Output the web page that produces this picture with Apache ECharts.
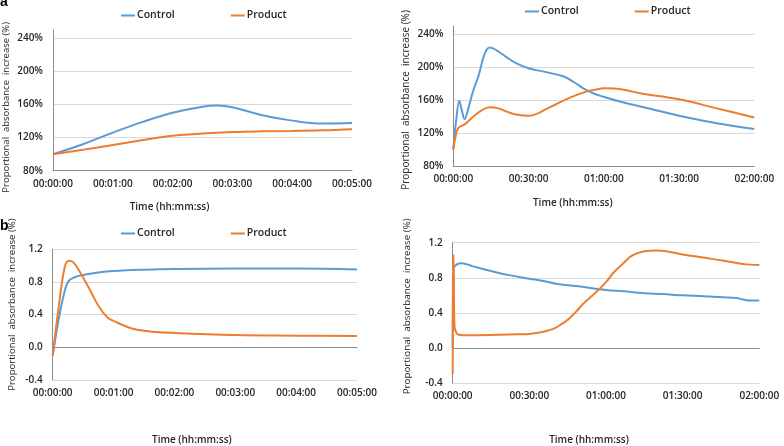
<!DOCTYPE html>
<html>
<head>
<meta charset="utf-8">
<script src="https://cdn.jsdelivr.net/npm/echarts@6/dist/echarts.min.js"></script>
<style>
html,body{margin:0;padding:0;background:#fff;}
#chart{width:784px;height:446px;}
</style>
</head>
<body>
<div id="chart"></div>
<script>
// ---------- DATA ----------
const seriesNames = ['Control', 'Product'];

// Panel a (left): 0-5 min, time in minutes, values in %
const a1ControlTime = [0, 0.5, 1, 1.5, 2, 2.5, 2.75, 3, 3.5, 4, 4.5, 5];
const a1ControlVal  = [100, 112, 126, 139, 150, 157.4, 158.8, 156.6, 147, 140.5, 137, 137.6];
const a1ProductTime = [0, 0.5, 1, 1.5, 2, 2.5, 3, 3.5, 4, 4.5, 5];
const a1ProductVal  = [100, 105.4, 111, 117, 122.3, 125, 126.8, 127.6, 128, 128.8, 130.2];

// Panel a (right): 0-120 min
const a2ControlTime = [0, 1.2, 2.4, 3.3, 4.5, 6, 8, 10, 12.6, 14.6, 18, 21.3, 25, 30, 37, 44, 48, 52, 56, 60, 68, 75, 90, 105, 120];
const a2ControlVal  = [100, 137, 159, 149, 137, 150, 172, 189, 217, 224, 219, 212, 205, 198.7, 194, 188.6, 182, 174, 168, 164, 157, 152, 141, 132, 125];
const a2ProductTime = [0, 1, 2, 4.7, 8, 11, 14.6, 18, 21.3, 25, 30, 33, 37, 41, 45, 49, 53, 57, 60, 64, 68, 75, 90, 105, 120];
const a2ProductVal  = [100, 117, 126, 131, 140, 147, 151.4, 150, 146, 142.5, 141, 143, 149, 155, 161, 166, 170.3, 173, 174.4, 174, 172.5, 168, 161, 150, 139];

// Panel b (left): 0-5 min
const b1ControlTime = [0, 0.1, 0.2, 0.26, 0.35, 0.5, 0.75, 1, 1.5, 2, 3, 4, 5];
const b1ControlVal  = [-0.1, 0.35, 0.7, 0.81, 0.855, 0.886, 0.915, 0.933, 0.95, 0.96, 0.964, 0.964, 0.954];
const b1ProductTime = [0, 0.1, 0.2, 0.27, 0.34, 0.45, 0.6, 0.75, 0.9, 1, 1.3, 1.6, 2, 3, 4, 5];
const b1ProductVal  = [-0.1, 0.5, 0.99, 1.06, 1.04, 0.92, 0.72, 0.51, 0.366, 0.324, 0.23, 0.195, 0.176, 0.15, 0.142, 0.139];

// Panel b (right): 0-120 min
const b2ControlTime = [0, 0.3, 1.5, 3.5, 8, 14.6, 22, 30, 36, 41, 50, 60, 67, 75, 82, 90, 98, 106, 111, 114, 117, 120];
const b2ControlVal  = [0.0, 0.9, 0.95, 0.965, 0.93, 0.88, 0.83, 0.79, 0.76, 0.73, 0.70, 0.66, 0.645, 0.624, 0.615, 0.60, 0.59, 0.578, 0.57, 0.55, 0.54, 0.54];
const b2ProductTime = [0, 0.12, 0.25, 0.4, 0.7, 1.5, 2.5, 4, 14.6, 25, 30, 34, 37, 40, 42, 45, 48.5, 51, 54, 57, 60, 63, 66.8, 70, 74.6, 79.8, 85, 90, 98, 106, 112, 116, 120];
const b2ProductVal  = [-0.3, 0.9, 1.06, 0.9, 0.245, 0.17, 0.15, 0.145, 0.147, 0.155, 0.16, 0.175, 0.195, 0.225, 0.26, 0.32, 0.42, 0.5, 0.58, 0.66, 0.75, 0.86, 0.966, 1.05, 1.1, 1.11, 1.095, 1.066, 1.03, 0.995, 0.965, 0.95, 0.945];

// Tick labels
const xTicksShort = ['00:00:00', '00:01:00', '00:02:00', '00:03:00', '00:04:00', '00:05:00'];
const xTicksLong  = ['00:00:00', '00:30:00', '01:00:00', '01:30:00', '02:00:00'];
const yTicksA = ['80%', '120%', '160%', '200%', '240%'];
const yTicksB = ['-0.4', '0.0', '0.4', '0.8', '1.2'];

const yTitle = 'Proportional  absorbance  increase (%)';
const xTitle = 'Time (hh:mm:ss)';

// ---------- STYLE ----------
const BLUE = '#5B9BD5', ORANGE = '#ED7D31';
const TXT = '#262626';
const FONT = '"Open Sans", "Liberation Sans", sans-serif';
const GRID = '#D9D9D9', AXIS = '#8C8C8C';

function zip(t, v) { return t.map((x, i) => [x, v[i]]); }
function labeler(arr, min, step) {
  return function (v) { const i = Math.round((v - min) / step); return (Math.abs(v - (min + i * step)) < 1e-6 && arr[i] != null) ? arr[i] : ''; };
}

function xAxis(grid, max, step, ticks, pad, gap) {
  return {
    type: 'value', gridIndex: grid, min: 0, max: max, interval: step,
    axisLine: { show: true, onZero: true, lineStyle: { color: AXIS, width: 1 } },
    axisTick: { show: false },
    splitLine: { show: false },
    axisLabel: { color: TXT, fontFamily: FONT, fontSize: 10, fontWeight: 600, margin: 8, formatter: labeler(ticks, 0, step) },
    name: xTitle, nameLocation: 'middle', nameGap: gap,
    nameTextStyle: { color: TXT, fontFamily: FONT, fontSize: 10, fontWeight: 600, padding: pad }
  };
}
function yAxis(grid, min, max, step, ticks, splitColors, fs, gap, pad) {
  return {
    type: 'value', gridIndex: grid, min: min, max: max, interval: step,
    axisLine: { show: true, onZero: false, lineStyle: { color: AXIS, width: 1 } },
    axisTick: { show: false },
    splitLine: { show: true, lineStyle: { color: splitColors, width: 1 } },
    axisLabel: { color: TXT, fontFamily: FONT, fontSize: 10, fontWeight: 600, margin: 10, showMaxLabel: ticks === yTicksB, formatter: labeler(ticks, min, step) },
    name: yTitle, nameLocation: 'middle', nameGap: gap, nameRotate: 90,
    nameTextStyle: { color: TXT, fontFamily: FONT, fontSize: fs, fontWeight: 400, padding: pad }
  };
}
function line(name, color, xi, data) {
  return {
    name: name, type: 'line', xAxisIndex: xi, yAxisIndex: xi, data: data,
    showSymbol: false, symbol: 'none', smooth: 0.4,
    lineStyle: { color: color, width: 2 }, itemStyle: { color: color },
    z: name === 'Product' ? 3 : 2, animation: false
  };
}
function legend(left, top) {
  return {
    data: seriesNames, left: left, top: top, padding: 0, itemGap: 56,
    icon: 'rect', itemWidth: 14, itemHeight: 2,
    textStyle: { color: TXT, fontFamily: FONT, fontSize: 10.5, fontWeight: 600, padding: [0, 0, 0, -3] }
  };
}

const splitA = [GRID, GRID, GRID, GRID, GRID, 'rgba(0,0,0,0)'];
const splitB = [GRID, GRID, GRID, GRID, GRID];

const option = {
  backgroundColor: '#fff',
  animation: false,
  title: [
    { text: 'a', left: 0, top: -5, padding: 0, textStyle: { fontFamily: '"Liberation Sans", Arial, sans-serif', fontSize: 14, fontWeight: 'bold', color: '#000' } },
    { text: 'b', left: 0, top: 219, padding: 0, textStyle: { fontFamily: '"Liberation Sans", Arial, sans-serif', fontSize: 14, fontWeight: 'bold', color: '#000' } }
  ],
  legend: [legend(121, 10), legend(525, 6), legend(121, 228)],
  grid: [
    { left: 53, top: 30, width: 299, height: 140.7 },
    { left: 453.3, top: 26, width: 301, height: 140 },
    { left: 52.7, top: 249.3, width: 304.3, height: 169.7 },
    { left: 452.7, top: 242.7, width: 306.6, height: 186 }
  ],
  xAxis: [
    xAxis(0, 5, 1, xTicksShort, [0, 66, 0, 0], 31),
    xAxis(1, 120, 30, xTicksLong, [0, 62, 0, 0], 32),
    xAxis(2, 5, 1, xTicksShort, [0, 26, 0, 0], 55),
    xAxis(3, 120, 30, xTicksLong, [0, 34, 0, 0], 52)
  ],
  yAxis: [
    yAxis(0, 80, 250, 40, yTicksA, splitA, 9.5, 42, [0, 14, 0, 0]),
    yAxis(1, 80, 250, 40, yTicksA, splitA, 10, 42, [0, 8, 0, 0]),
    yAxis(2, -0.4, 1.2, 0.4, yTicksB, splitB, 9.6, 35, [0, 0, 0, 20]),
    yAxis(3, -0.4, 1.2, 0.4, yTicksB, splitB, 9.8, 40, [0, 0, 0, 13])
  ],
  series: [
    line('Control', BLUE, 0, zip(a1ControlTime, a1ControlVal)),
    line('Product', ORANGE, 0, zip(a1ProductTime, a1ProductVal)),
    line('Control', BLUE, 1, zip(a2ControlTime, a2ControlVal)),
    line('Product', ORANGE, 1, zip(a2ProductTime, a2ProductVal)),
    line('Control', BLUE, 2, zip(b1ControlTime, b1ControlVal)),
    line('Product', ORANGE, 2, zip(b1ProductTime, b1ProductVal)),
    line('Control', BLUE, 3, zip(b2ControlTime, b2ControlVal)),
    line('Product', ORANGE, 3, zip(b2ProductTime, b2ProductVal))
  ]
};

const chart = echarts.init(document.getElementById('chart'), null, { renderer: 'canvas' });
chart.setOption(option);
</script>
</body>
</html>
